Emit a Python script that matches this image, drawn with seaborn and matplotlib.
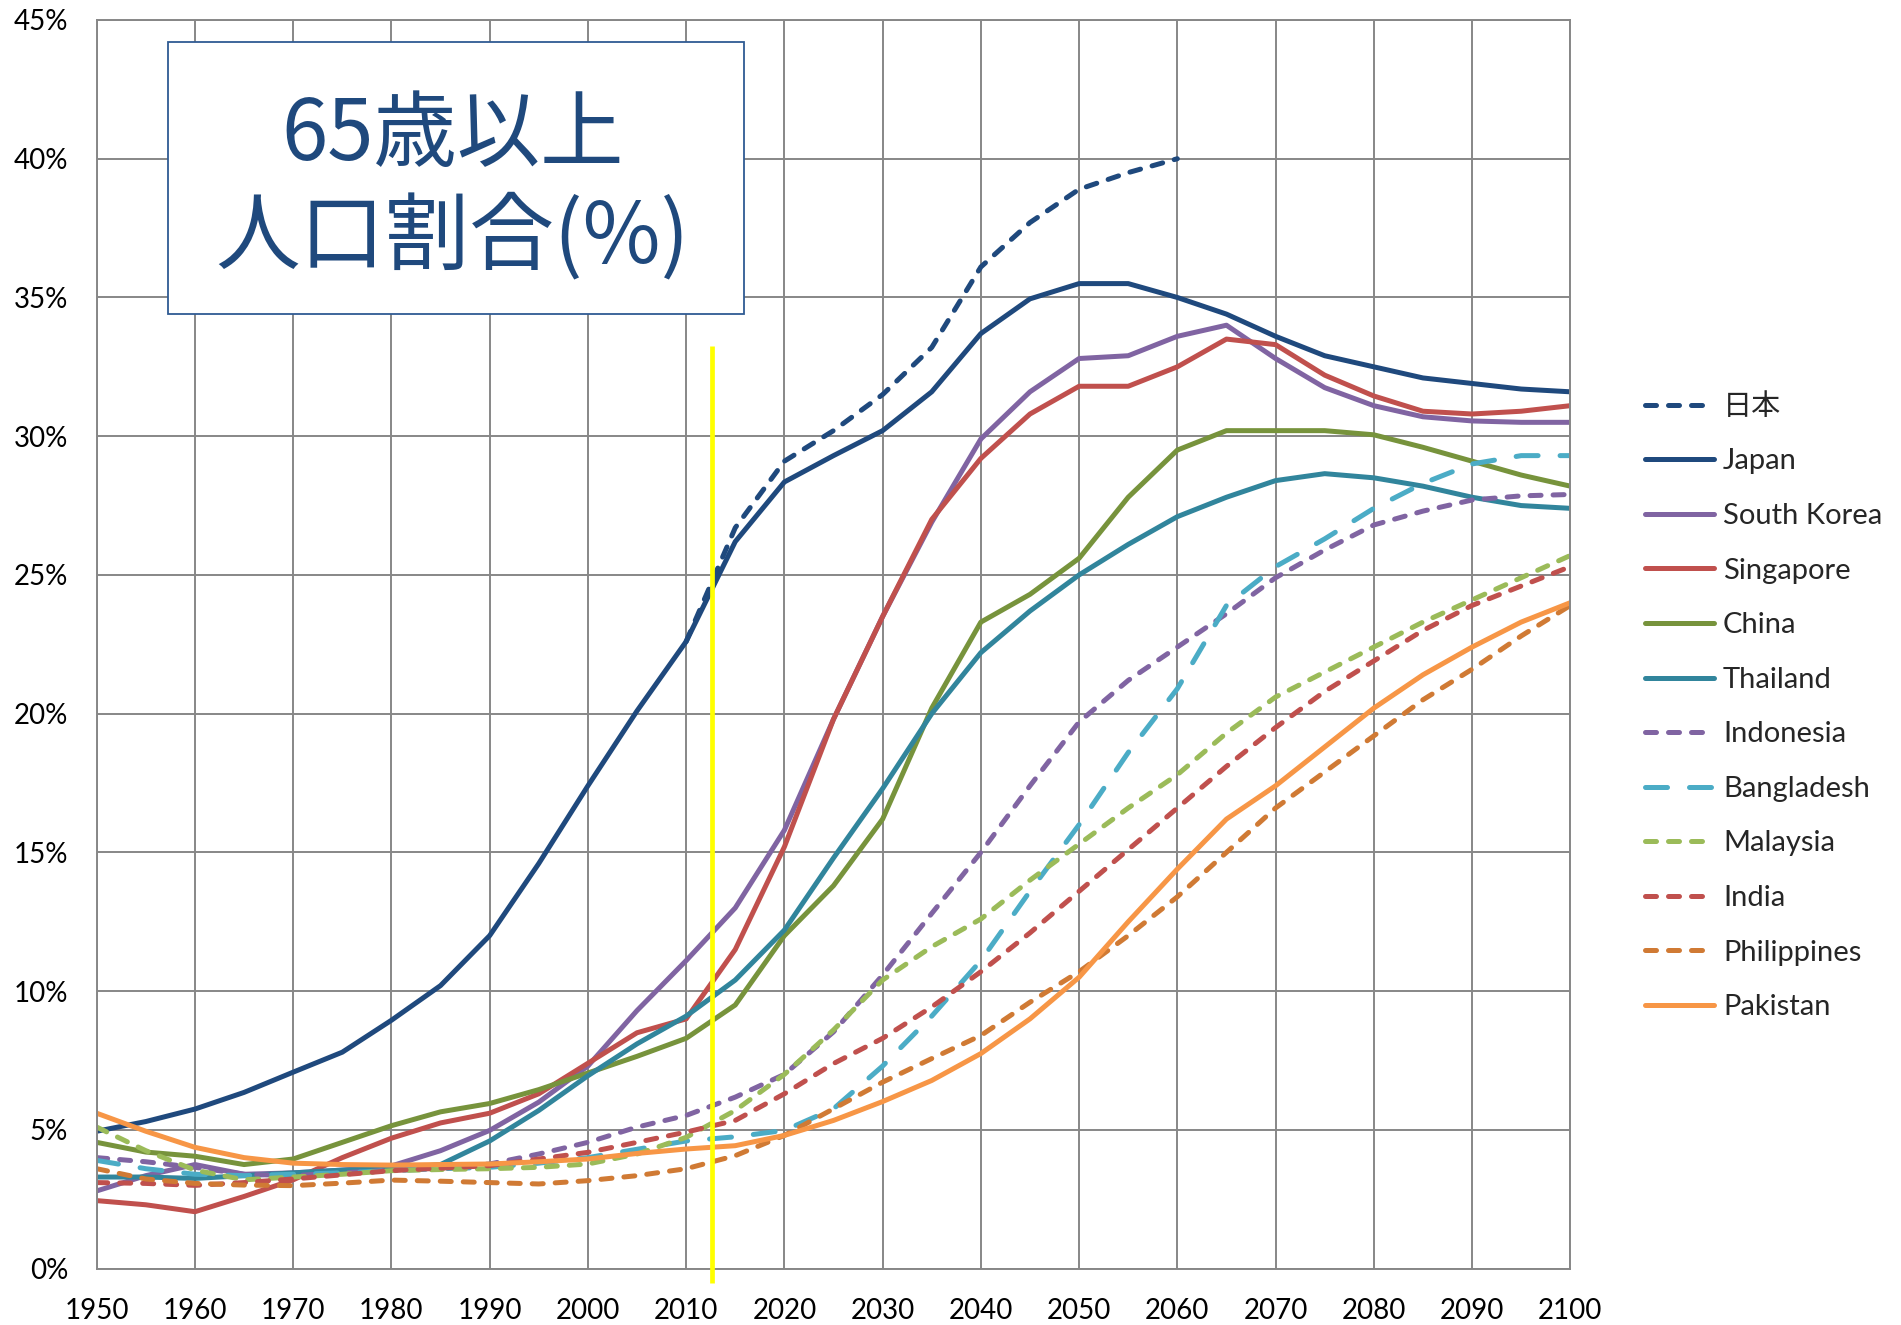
import matplotlib
matplotlib.use("Agg")
import matplotlib.pyplot as plt
from matplotlib.patches import Rectangle
import pandas as pd
import seaborn as sns

# ---------------- data (percent of population aged 65+) ----------------
years = list(range(1950, 2101, 5))
years_jp_proj = list(range(2010, 2061, 5))

jp_proj = [22.6, 26.7, 29.1, 30.2, 31.5, 33.2, 36.1, 37.7, 38.9, 39.5, 40.0]
japan = [4.95, 5.3, 5.75, 6.35, 7.08, 7.8, 8.95, 10.2, 12.0, 14.6, 17.4, 20.1, 22.6,
         26.2, 28.35, 29.3, 30.2, 31.6, 33.7, 34.95, 35.5, 35.5, 35.0, 34.4, 33.6, 32.9,
         32.5, 32.1, 31.9, 31.7, 31.6]
south_korea = [2.8, 3.35, 3.75, 3.4, 3.45, 3.55, 3.7, 4.25, 4.98, 6.0, 7.3, 9.3, 11.1,
               13.0, 15.8, 19.8, 23.5, 26.9, 29.9, 31.6, 32.8, 32.9, 33.6, 34.0, 32.8,
               31.75, 31.1, 30.7, 30.55, 30.5, 30.5]
singapore = [2.45, 2.3, 2.05, 2.6, 3.2, 4.0, 4.7, 5.25, 5.6, 6.3, 7.4, 8.5, 9.0,
             11.5, 15.2, 19.8, 23.5, 27.0, 29.2, 30.8, 31.8, 31.8, 32.5, 33.5, 33.3,
             32.2, 31.45, 30.9, 30.8, 30.9, 31.1]
china = [4.55, 4.2, 4.05, 3.75, 3.95, 4.55, 5.15, 5.65, 5.95, 6.45, 7.05, 7.65, 8.3,
         9.5, 12.0, 13.8, 16.2, 20.2, 23.3, 24.3, 25.6, 27.8, 29.5, 30.2, 30.2, 30.2,
         30.05, 29.6, 29.1, 28.6, 28.2]
thailand = [3.3, 3.3, 3.25, 3.35, 3.45, 3.55, 3.6, 3.75, 4.6, 5.7, 6.95, 8.1, 9.1,
            10.4, 12.2, 14.8, 17.3, 20.0, 22.2, 23.7, 25.0, 26.1, 27.1, 27.8, 28.4,
            28.65, 28.5, 28.2, 27.8, 27.5, 27.4]
indonesia = [4.0, 3.85, 3.65, 3.4, 3.35, 3.45, 3.55, 3.65, 3.77, 4.13, 4.55, 5.1, 5.52,
             6.18, 7.0, 8.53, 10.58, 12.8, 15.0, 17.4, 19.7, 21.2, 22.4, 23.6, 24.9,
             25.9, 26.8, 27.3, 27.7, 27.85, 27.9]
bangladesh = [3.9, 3.6, 3.4, 3.35, 3.4, 3.45, 3.53, 3.6, 3.65, 3.8, 4.0, 4.3, 4.6,
              4.75, 4.98, 5.76, 7.3, 9.1, 11.1, 13.6, 16.0, 18.6, 20.9, 23.9, 25.3,
              26.3, 27.4, 28.3, 29.0, 29.3, 29.3]
malaysia = [5.1, 4.25, 3.55, 3.2, 3.3, 3.4, 3.53, 3.57, 3.6, 3.65, 3.77, 4.13, 4.73,
            5.7, 7.0, 8.6, 10.4, 11.6, 12.6, 14.0, 15.3, 16.6, 17.8, 19.3, 20.6, 21.5,
            22.4, 23.3, 24.1, 24.9, 25.7]
india = [3.1, 3.07, 3.0, 3.1, 3.23, 3.38, 3.53, 3.62, 3.71, 3.95, 4.19, 4.55, 4.92,
         5.34, 6.3, 7.39, 8.3, 9.43, 10.7, 12.1, 13.6, 15.1, 16.6, 18.1, 19.5, 20.8,
         21.9, 23.0, 23.9, 24.6, 25.3]
philippines = [3.6, 3.23, 3.07, 3.01, 2.99, 3.08, 3.19, 3.15, 3.1, 3.05, 3.17, 3.35,
               3.6, 4.07, 4.8, 5.76, 6.72, 7.57, 8.4, 9.6, 10.7, 12.0, 13.4, 15.0, 16.6,
               17.9, 19.2, 20.5, 21.6, 22.8, 23.9]
pakistan = [5.6, 4.95, 4.37, 4.0, 3.8, 3.75, 3.73, 3.75, 3.77, 3.85, 3.95, 4.15, 4.31,
            4.43, 4.8, 5.34, 6.02, 6.78, 7.75, 9.0, 10.5, 12.5, 14.4, 16.2, 17.4, 18.8,
            20.2, 21.4, 22.4, 23.3, 24.0]

series_names = ["日本", "Japan", "South Korea", "Singapore", "China", "Thailand",
                "Indonesia", "Bangladesh", "Malaysia", "India", "Philippines", "Pakistan"]
series_values = [jp_proj, japan, south_korea, singapore, china, thailand,
                 indonesia, bangladesh, malaysia, india, philippines, pakistan]
series_years = [years_jp_proj] + [years] * 11

title_lines = ["65歳以上", "人口割合(%)"]
x_ticks = list(range(1950, 2101, 10))
y_ticks = list(range(0, 46, 5))
marker_year = 2012.6          # yellow "today" marker
marker_top = 33.26

# ---------------- styles ----------------
colors = {
    "日本": "#1F497D", "Japan": "#1F497D", "South Korea": "#8064A2",
    "Singapore": "#C0504D", "China": "#77933C", "Thailand": "#31859C",
    "Indonesia": "#8064A2", "Bangladesh": "#4BACC6", "Malaysia": "#9BBB59",
    "India": "#C0504D", "Philippines": "#D07A34", "Pakistan": "#F79646",
}
SHORT = (0, (2.2, 2.4))
LONG = (0, (4.4, 4.4))
styles = {
    "日本": SHORT, "Japan": "-", "South Korea": "-", "Singapore": "-",
    "China": "-", "Thailand": "-", "Indonesia": SHORT, "Bangladesh": LONG,
    "Malaysia": SHORT, "India": SHORT, "Philippines": SHORT, "Pakistan": "-",
}

sns.set_theme(style="white")
plt.rcParams["font.family"] = ["Lato", "Noto Sans CJK JP", "DejaVu Sans"]

W, H = 1901, 1325
fig = plt.figure(figsize=(W / 100, H / 100), dpi=100)
fig.patch.set_facecolor("white")
ax = fig.add_axes([96.7 / W, (H - 1268.6) / H, 1473.6 / W, 1248.6 / H])

GRID = "#878787"
LW = 3.6

for name, yrs, vals in zip(series_names, series_years, series_values):
    df = pd.DataFrame({"year": yrs, "value": vals})
    sns.lineplot(data=df, x="year", y="value", ax=ax, color=colors[name],
                 linestyle=styles[name], linewidth=LW, label=name,
                 estimator=None, legend=False,
                 dash_capstyle="round", solid_capstyle="round",
                 solid_joinstyle="round", dash_joinstyle="round")

if ax.get_legend() is not None:
    ax.get_legend().remove()

# yellow current-year marker
ax.plot([marker_year, marker_year], [-0.52, marker_top], color="#FFFF00",
        linewidth=3.4, clip_on=False, zorder=10, solid_capstyle="butt")

ax.set_xlim(1950, 2100)
ax.set_ylim(0, 45)
ax.set_xticks(x_ticks)
ax.set_yticks(y_ticks)
ax.set_yticklabels([f"{v}%" for v in y_ticks])
ax.set_xlabel("")
ax.set_ylabel("")
ax.grid(True, color=GRID, linewidth=1.4)
ax.set_axisbelow(True)
for s in ax.spines.values():
    s.set_color(GRID)
    s.set_linewidth(1.4)
ax.tick_params(axis="both", which="major", direction="out", length=7.5,
               width=1.4, color=GRID, labelsize=20, labelcolor="black")
ax.tick_params(axis="x", pad=14)
ax.tick_params(axis="y", pad=13)
ax.set_facecolor("white")

# title box
rect = Rectangle((168.4 / W, 1 - 314 / H), (743.6 - 168.4) / W, (314 - 42.3) / H,
                 transform=fig.transFigure, facecolor="white",
                 edgecolor="#2F5B93", linewidth=1.3, zorder=20)
fig.patches.append(rect)
fig.text(453 / W, 1 - 160 / H, title_lines[0], ha="center", va="baseline",
         fontsize=60, color="#1F497D", family=["Noto Sans CJK JP", "DejaVu Sans"],
         weight="normal", zorder=21)
fig.text(452 / W, 1 - 262 / H, title_lines[1], ha="center", va="baseline",
         fontsize=61, color="#1F497D", family=["Noto Sans CJK JP", "DejaVu Sans"],
         weight="normal", zorder=21)

# legend
handles, labels = ax.get_legend_handles_labels()
fig.legend(handles, labels, loc="upper left",
           bbox_to_anchor=(1645 / W, 1 - 393 / H), frameon=False,
           fontsize=21, handlelength=2.35, handletextpad=0.32,
           labelspacing=0.98, borderpad=0, borderaxespad=0)

fig.savefig("out.png", dpi=100, facecolor="white")
